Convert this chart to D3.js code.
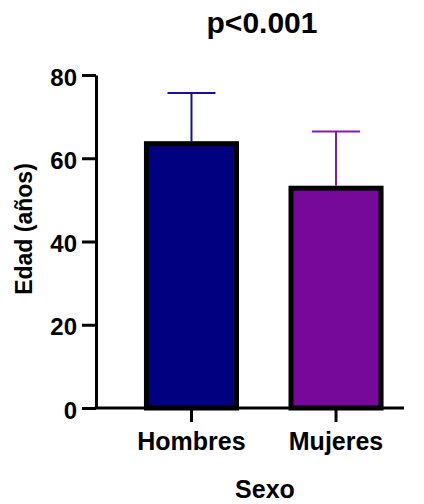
<!DOCTYPE html>
<html>
<head>
<meta charset="utf-8">
<script src="https://cdn.jsdelivr.net/npm/d3@7"></script>
<style>
  html, body { margin: 0; padding: 0; background: #ffffff; }
  svg { display: block; }
  text { font-family: "Liberation Sans", Arial, Helvetica, sans-serif; font-weight: bold; fill: #000; }
</style>
</head>
<body>
<svg id="chart" width="424" height="504"></svg>
<script>
// Edad media (± DE) por sexo
const categories = ["Hombres", "Mujeres"];
const means = [63.5, 52.8];
const sds = [12.2, 13.6];
const yTicks = [0, 20, 40, 60, 80];
const fills = ["#000080", "#76099a"];
const errColors = ["#10109a", "#8a16ac"];

const svg = d3.select("#chart");

const y = d3.scaleLinear().domain([0, 80]).range([408, 75]);
const x = d3.scaleBand()
  .domain(categories)
  .range([96, 431.5])
  .paddingInner(0.377)
  .paddingOuter(0.349);

// Bars
svg.append("g").selectAll("rect")
  .data(categories)
  .join("rect")
  .attr("x", d => x(d))
  .attr("width", x.bandwidth())
  .attr("y", (d, i) => y(means[i]))
  .attr("height", (d, i) => y(0) - y(means[i]))
  .attr("fill", (d, i) => fills[i])
  .attr("stroke", "#000")
  .attr("stroke-width", 5);

// Error bars (upper only)
const err = svg.append("g");
categories.forEach((c, i) => {
  const cx = x(c) + x.bandwidth() / 2;
  const capHalf = 24;
  err.append("line")
    .attr("x1", cx).attr("x2", cx)
    .attr("y1", y(means[i]) - 2.5).attr("y2", y(means[i] + sds[i]))
    .attr("stroke", errColors[i]).attr("stroke-width", 2);
  err.append("line")
    .attr("x1", cx - capHalf).attr("x2", cx + capHalf)
    .attr("y1", y(means[i] + sds[i])).attr("y2", y(means[i] + sds[i]))
    .attr("stroke", errColors[i]).attr("stroke-width", 2);
});

// Y axis
const yAxis = svg.append("g")
  .attr("transform", "translate(96,0)")
  .call(d3.axisLeft(y).tickValues(yTicks).tickSize(14).tickSizeOuter(0).tickPadding(5));
yAxis.select(".domain").attr("stroke", "#000").attr("stroke-width", 3);
yAxis.selectAll(".tick line").attr("stroke", "#000").attr("stroke-width", 3);
yAxis.selectAll(".tick text")
  .attr("font-size", 24)
  .attr("font-family", "Liberation Sans, Arial, sans-serif")
  .attr("font-weight", "bold")
  .attr("fill", "#000")
  .attr("dy", "0.42em");

// X axis
const xAxis = svg.append("g")
  .attr("transform", "translate(0,408)")
  .call(d3.axisBottom(x).tickSize(14).tickSizeOuter(0).tickPadding(10));
xAxis.select(".domain").remove();
xAxis.append("line")
  .attr("x1", 94.5).attr("x2", 404)
  .attr("y1", 0).attr("y2", 0)
  .attr("stroke", "#000").attr("stroke-width", 3);
xAxis.selectAll(".tick line").attr("stroke", "#000").attr("stroke-width", 3);
xAxis.selectAll(".tick text")
  .attr("font-size", 25)
  .attr("font-family", "Liberation Sans, Arial, sans-serif")
  .attr("font-weight", "bold")
  .attr("fill", "#000");

// Titles
svg.append("text")
  .attr("x", 262).attr("y", 33)
  .attr("text-anchor", "middle")
  .attr("font-size", 30)
  .text("p<0.001");

svg.append("text")
  .attr("x", 265).attr("y", 498)
  .attr("text-anchor", "middle")
  .attr("font-size", 25)
  .text("Sexo");

svg.append("text")
  .attr("transform", "translate(32,229) rotate(-90)")
  .attr("text-anchor", "middle")
  .attr("font-size", 23)
  .text("Edad (años)");
</script>
</body>
</html>
